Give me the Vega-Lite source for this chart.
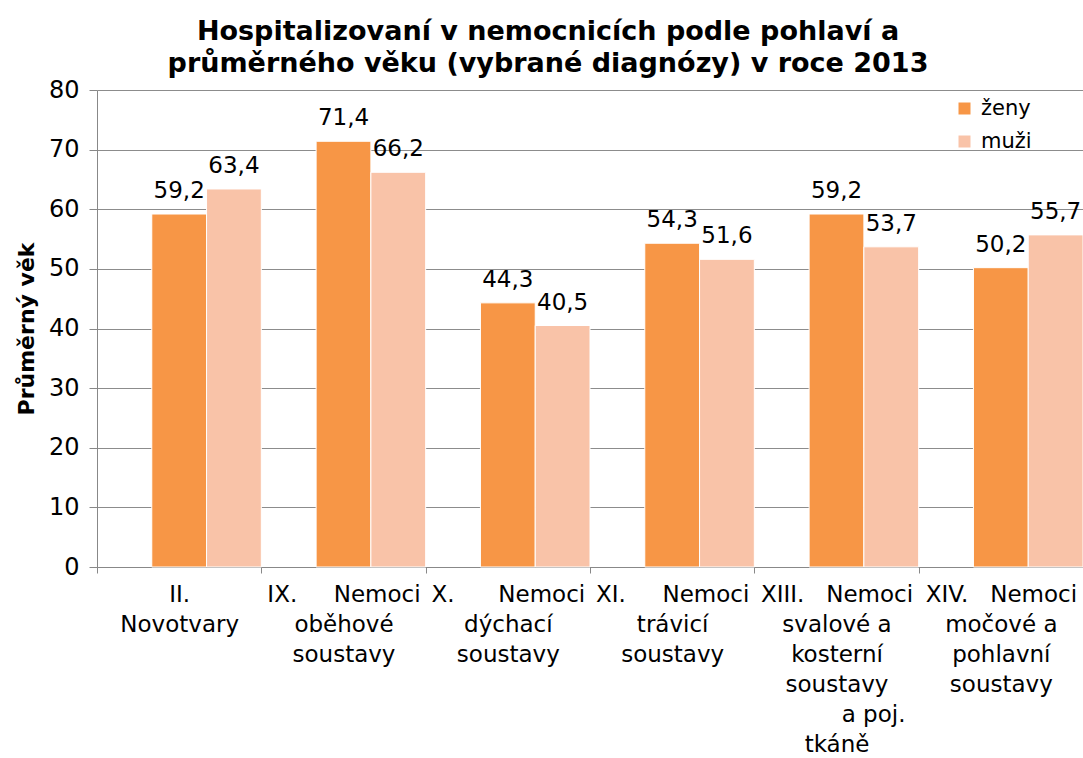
{
  "$schema": "https://vega.github.io/schema/vega-lite/v6.json",
  "width": 986,
  "height": 477,
  "autosize": {"type": "none"},
  "padding": {"left": 97, "top": 90, "right": 0, "bottom": 191},
  "background": "white",
  "title": {
    "text": ["Hospitalizovaní v nemocnicích podle pohlaví a", "průměrného věku (vybrané diagnózy) v roce 2013"],
    "font": "DejaVu Sans",
    "fontSize": 27,
    "fontWeight": "bold",
    "lineHeight": 32,
    "color": "black",
    "anchor": "middle",
    "frame": "group",
    "dx": -42,
    "offset": 0
  },
  "config": {
    "locale": {"number": {"decimal": ",", "thousands": " ", "grouping": [3], "currency": ["", " Kč"]}},
    "view": {"stroke": null},
    "font": "DejaVu Sans"
  },
  "data": {
    "values": [
      {"diag": "II.|Novotvary", "pohlavi": "ženy", "vek": 59.2},
      {"diag": "II.|Novotvary", "pohlavi": "muži", "vek": 63.4},
      {"diag": "IX.\u00a0\u00a0\u00a0\u00a0\u00a0Nemoci|oběhové|soustavy", "pohlavi": "ženy", "vek": 71.4},
      {"diag": "IX.\u00a0\u00a0\u00a0\u00a0\u00a0Nemoci|oběhové|soustavy", "pohlavi": "muži", "vek": 66.2},
      {"diag": "X.\u00a0\u00a0\u00a0\u00a0\u00a0\u00a0Nemoci|dýchací|soustavy", "pohlavi": "ženy", "vek": 44.3},
      {"diag": "X.\u00a0\u00a0\u00a0\u00a0\u00a0\u00a0Nemoci|dýchací|soustavy", "pohlavi": "muži", "vek": 40.5},
      {"diag": "XI.\u00a0\u00a0\u00a0\u00a0\u00a0Nemoci|trávicí|soustavy", "pohlavi": "ženy", "vek": 54.3},
      {"diag": "XI.\u00a0\u00a0\u00a0\u00a0\u00a0Nemoci|trávicí|soustavy", "pohlavi": "muži", "vek": 51.6},
      {"diag": "XIII.\u00a0\u00a0\u00a0Nemoci|svalové a|kosterní|soustavy|\u200b\u00a0\u00a0\u00a0\u00a0\u00a0\u00a0\u00a0\u00a0\u00a0\u00a0a poj.|tkáně", "pohlavi": "ženy", "vek": 59.2},
      {"diag": "XIII.\u00a0\u00a0\u00a0Nemoci|svalové a|kosterní|soustavy|\u200b\u00a0\u00a0\u00a0\u00a0\u00a0\u00a0\u00a0\u00a0\u00a0\u00a0a poj.|tkáně", "pohlavi": "muži", "vek": 53.7},
      {"diag": "XIV.\u00a0\u00a0\u00a0Nemoci|močové a|pohlavní|soustavy", "pohlavi": "ženy", "vek": 50.2},
      {"diag": "XIV.\u00a0\u00a0\u00a0Nemoci|močové a|pohlavní|soustavy", "pohlavi": "muži", "vek": 55.7}
    ]
  },
  "encoding": {
    "x": {
      "field": "diag",
      "type": "nominal",
      "sort": null,
      "scale": {"paddingInner": 0, "paddingOuter": 0},
      "axis": {
        "title": null,
        "labelAngle": 0,
        "labelExpr": "split(datum.label, '|')",
        "labelFont": "DejaVu Sans",
        "labelFontSize": 23,
        "labelLineHeight": 30,
        "labelColor": "black",
        "labelPadding": 10,
        "labelLimit": 0,
        "tickBand": "extent",
        "tickSize": 6,
        "tickColor": "#888888",
        "domainColor": "#888888",
        "grid": false
      }
    },
    "xOffset": {
      "field": "pohlavi",
      "type": "nominal",
      "scale": {"domain": ["", "ženy", "muži"], "paddingInner": 0, "paddingOuter": 0}
    },
    "y": {
      "field": "vek",
      "type": "quantitative",
      "scale": {"domain": [0, 80], "nice": false},
      "axis": {
        "title": "Průměrný věk",
        "titleFont": "DejaVu Sans",
        "titleFontSize": 22,
        "titleFontWeight": "bold",
        "titleColor": "black",
        "titlePadding": 10,
        "values": [0, 10, 20, 30, 40, 50, 60, 70, 80],
        "labelFont": "DejaVu Sans",
        "labelFontSize": 24,
        "labelColor": "black",
        "labelPadding": 10,
        "tickSize": 8,
        "tickColor": "#888888",
        "domainColor": "#888888",
        "gridColor": "#8c8c8c",
        "gridWidth": 1
      }
    }
  },
  "layer": [
    {
      "mark": {"type": "bar", "stroke": "white", "strokeWidth": 1},
      "encoding": {
        "color": {
          "field": "pohlavi",
          "type": "nominal",
          "scale": {"domain": ["ženy", "muži"], "range": ["#F79646", "#F9C3A8"]},
          "legend": {
            "title": null,
            "orient": "none",
            "legendX": 857,
            "legendY": 8,
            "symbolType": "square",
            "symbolSize": 144,
            "symbolStrokeWidth": 0,
            "labelFont": "DejaVu Sans",
            "labelFontSize": 21,
            "labelColor": "black",
            "rowPadding": 11,
            "labelOffset": 6
          }
        }
      }
    },
    {
      "mark": {"type": "text", "baseline": "alphabetic", "dy": -16, "font": "DejaVu Sans", "fontSize": 23, "color": "black"},
      "encoding": {
        "text": {"field": "vek", "type": "quantitative", "format": ".1f"}
      }
    }
  ]
}
